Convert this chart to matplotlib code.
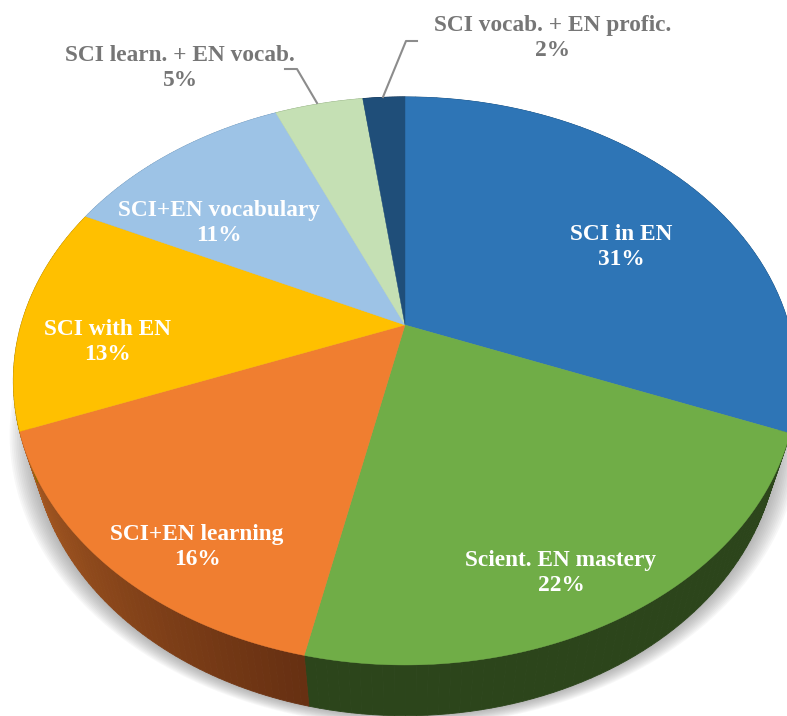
import matplotlib
matplotlib.use("Agg")
import matplotlib.pyplot as plt
import numpy as np
from matplotlib.colors import to_rgb

# slices clockwise from 12 o'clock
names = ["SCI in EN", "Scient. EN mastery", "SCI+EN learning", "SCI with EN",
         "SCI+EN vocabulary", "SCI learn. + EN vocab.", "SCI vocab. + EN profic."]
pct_labels = ["31%", "22%", "16%", "13%", "11%", "5%", "2%"]
shares = [31.0, 22.4, 15.7, 13.0, 11.4, 4.4, 2.1]
colors = ["#2E75B6", "#70AD47", "#F07E30", "#FFC000", "#9DC3E6", "#C5E0B4", "#1F4E79"]
side_left = ["#1B4A72", "#2C451B", "#A85A22", "#A87E00", "#6A8FB0", "#8AA57A", "#123050"]
side_right = ["#1B4A72", "#2C451B", "#673012", "#8A6800", "#6A8FB0", "#8AA57A", "#123050"]

label_x = [621, 561, 197, 108, 219, 180, 553]
label_y = [247, 573, 547, 342, 223, 68, 38]
label_col = ["white"] * 5 + ["#767676", "#767676"]

plt.rcParams["font.family"] = ["Liberation Serif", "DejaVu Serif"]

fig = plt.figure(figsize=(7.87, 7.16), dpi=100)
ax = fig.add_axes([0, 0, 1, 1])
ax.set_xlim(0, 787)
ax.set_ylim(716, 0)
ax.axis("off")

cx, cy = 405, 325
k = 0.197


def rim(ang, a=384, b=273, dy=0.0):
    # circle seen in perspective, ang in radians clockwise from top
    x = np.sin(ang)
    y = -np.cos(ang)
    w = 1 - k * y
    return cx + a * x / w, cy + dy + b * y / w


edges = np.radians(np.cumsum([0] + shares) * 3.6)

# soft shadow under the pie
t = np.linspace(0, 2 * np.pi, 360)
for grow in np.linspace(12, 0, 13):
    sx, sy = rim(t, a=366 + grow * 1.8, b=272 + grow * 0.7, dy=52)
    ax.fill(sx, sy, color="#707070", alpha=0.05, lw=0, zorder=1)

# side wall
for i in range(len(shares)):
    ang = np.linspace(edges[i], edges[i + 1], 60)
    c0 = np.array(to_rgb(side_left[i]))
    c1 = np.array(to_rgb(side_right[i]))
    for j in range(len(ang) - 1):
        pair = ang[j:j + 2]
        tx, ty = rim(pair)
        bx, by = rim(pair, a=366, b=272, dy=52)
        f = j / (len(ang) - 2)
        col = c1 * (1 - f) + c0 * f
        ax.fill([tx[0], tx[1], bx[1], bx[0]], [ty[0], ty[1], by[1], by[0]],
                color=col, lw=0.6, zorder=2)

# top face
for i in range(len(shares)):
    ang = np.linspace(edges[i], edges[i + 1], 120)
    px, py = rim(ang)
    ax.fill(np.r_[cx, px], np.r_[cy, py], color=colors[i], lw=0.3, zorder=3)

# leader lines for the two small slices
ax.plot([317, 297, 285], [103, 69, 69], color="#8C8C8C", lw=1.5, zorder=4)
ax.plot([383, 406, 417], [97, 41, 41], color="#8C8C8C", lw=1.5, zorder=4)

for i in range(len(shares)):
    ax.text(label_x[i], label_y[i], f"{names[i]}\n{pct_labels[i]}", color=label_col[i],
            fontsize=16.8, fontweight="bold", ha="center", va="center",
            linespacing=1.22, zorder=5)

fig.savefig("out.png", dpi=100)
